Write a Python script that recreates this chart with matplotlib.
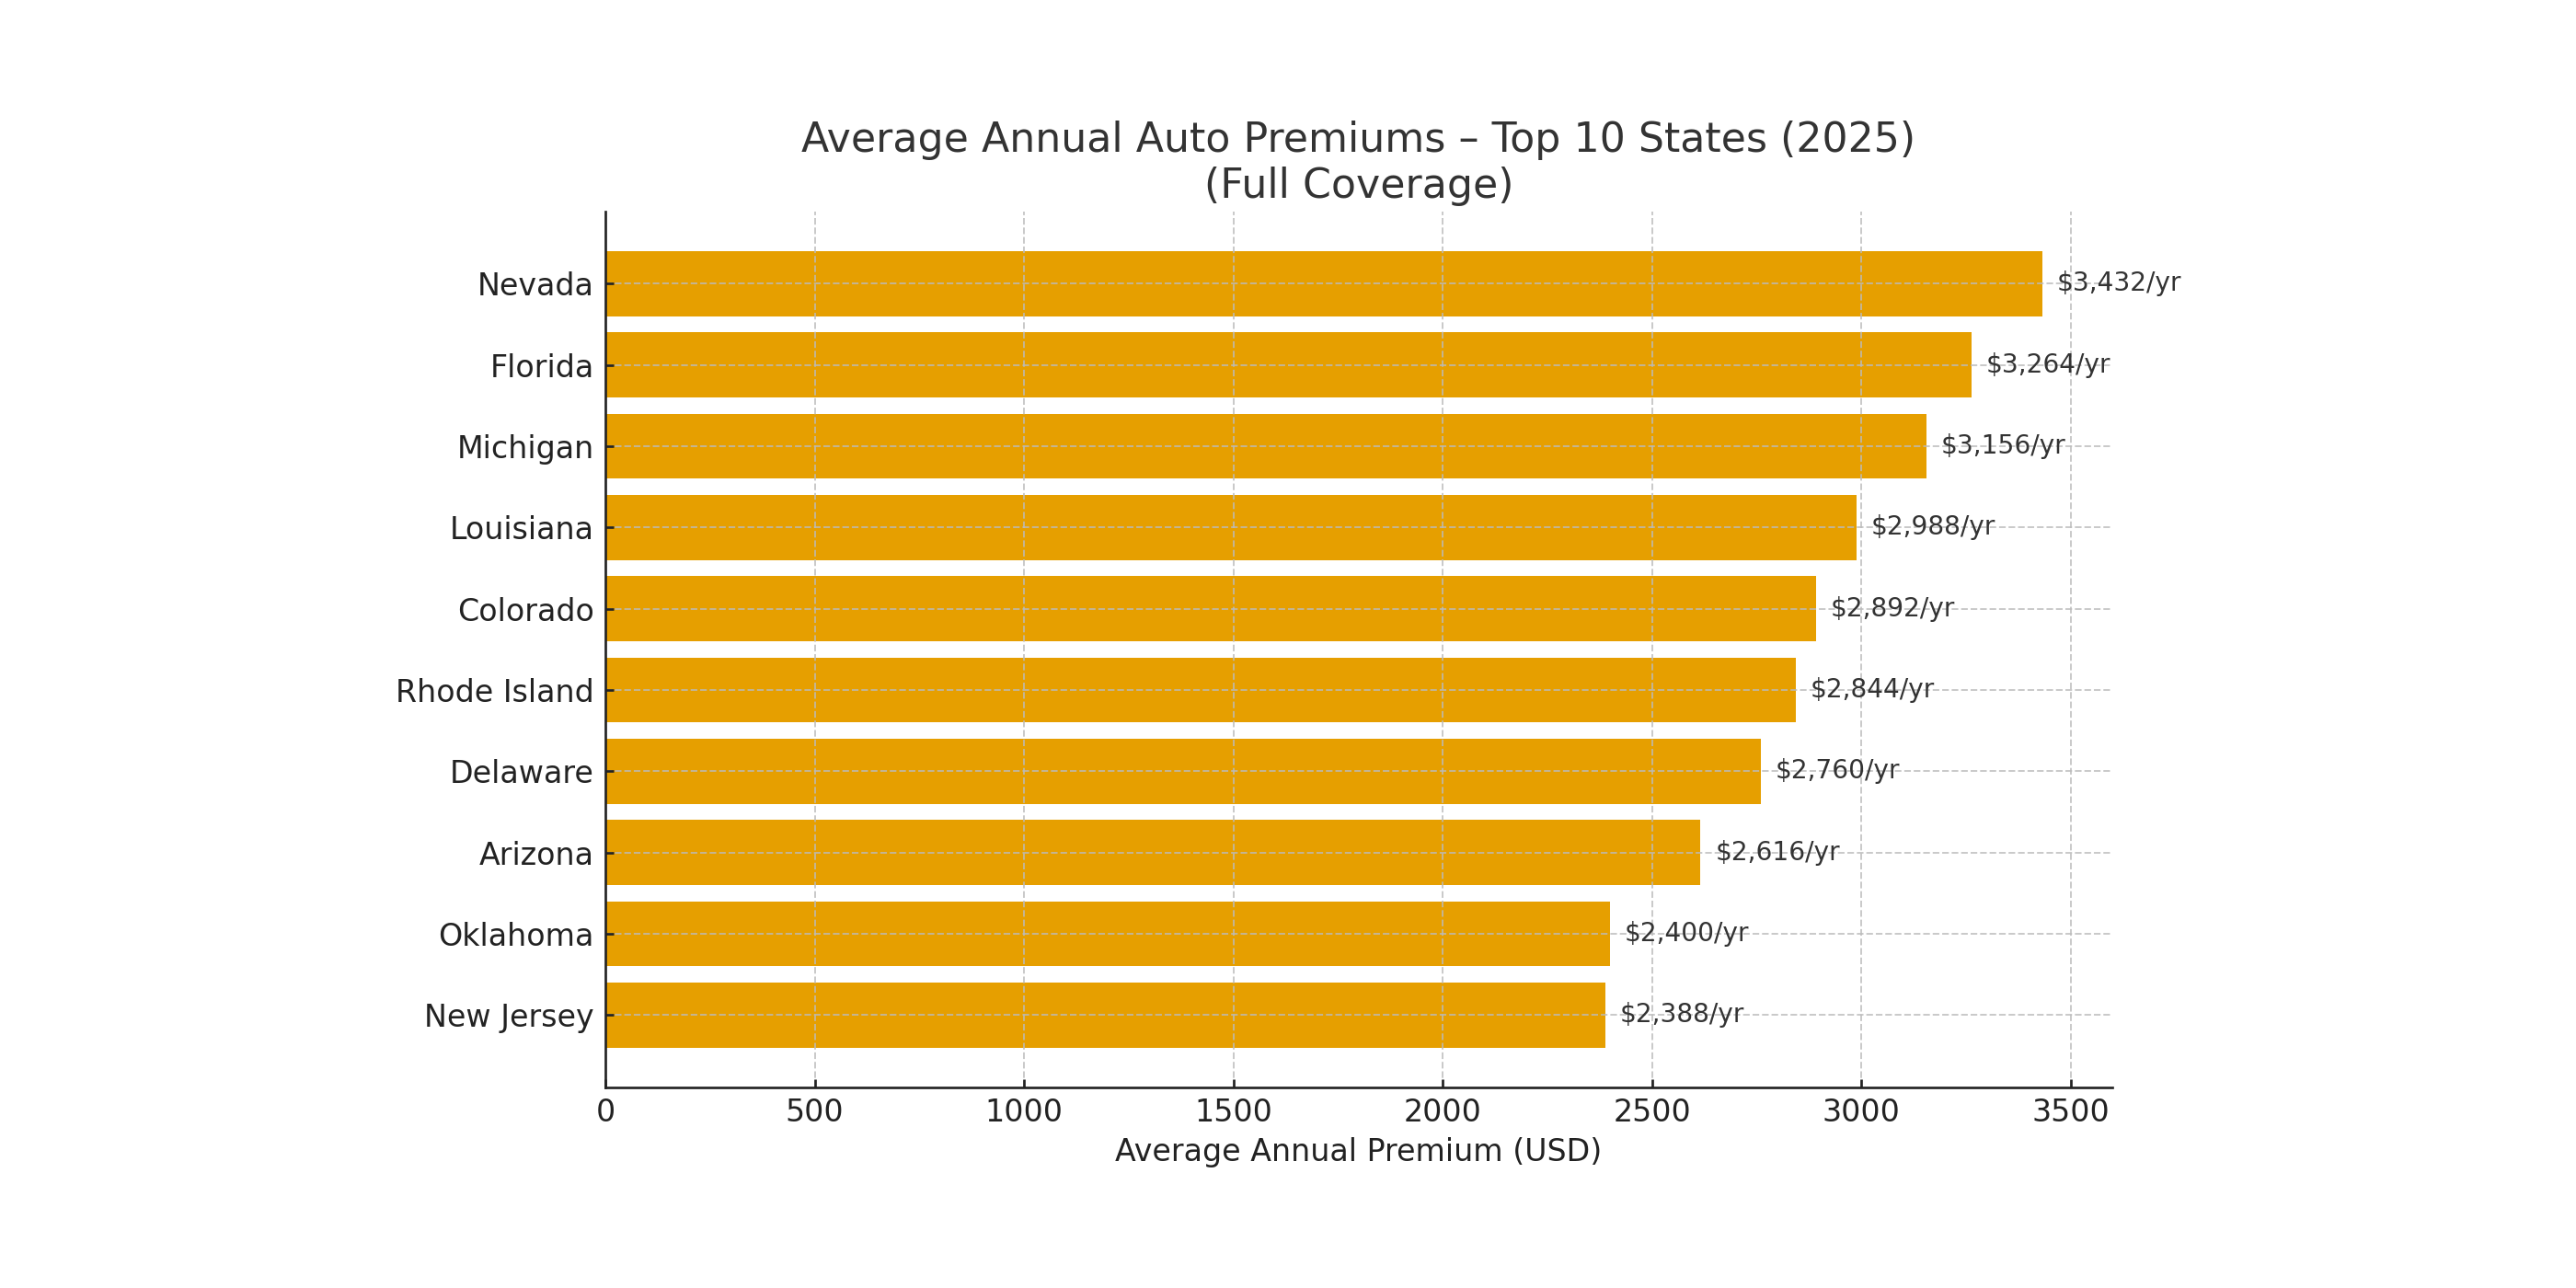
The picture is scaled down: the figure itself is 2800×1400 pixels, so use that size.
import matplotlib
matplotlib.use('Agg')
import matplotlib.pyplot as plt

states = ['Nevada', 'Florida', 'Michigan', 'Louisiana', 'Colorado',
          'Rhode Island', 'Delaware', 'Arizona', 'Oklahoma', 'New Jersey']
premiums = [3432, 3264, 3156, 2988, 2892, 2844, 2760, 2616, 2400, 2388]

bar_color = '#E69F00'
text_color = '#333333'

fig = plt.figure(figsize=(16, 8), dpi=175)
ax = fig.add_axes([0.235, 0.1558, 0.585, 0.68])

# reverse so Nevada ends up on top
ax.barh(states[::-1], premiums[::-1], color=bar_color, height=0.8, zorder=1)

for name, val in zip(states, premiums):
    ax.text(val + 35, name, '${:,}/yr'.format(val), va='center', ha='left',
            fontsize=11.5, color=text_color, zorder=3)

ax.set_xlim(0, 3600)
ax.set_title('Average Annual Auto Premiums – Top 10 States (2025)\n(Full Coverage)',
             fontsize=18.2, color=text_color)
ax.set_xlabel('Average Annual Premium (USD)', fontsize=13.7, color='#222222')
ax.tick_params(axis='both', direction='in', labelsize=13.7, colors='#222222',
               length=3.5, width=1.1)
ax.tick_params(axis='y', pad=5)
ax.tick_params(axis='x', pad=4.5)

ax.grid(True, linestyle='--', color='#bbbbbb', linewidth=0.8, alpha=0.8, zorder=2)
ax.set_axisbelow(False)
ax.spines['top'].set_visible(False)
ax.spines['right'].set_visible(False)
for side in ['left', 'bottom']:
    ax.spines[side].set_color('#222222')
    ax.spines[side].set_linewidth(1.1)
    ax.spines[side].set_zorder(4)

fig.savefig('out.png', dpi=175)
